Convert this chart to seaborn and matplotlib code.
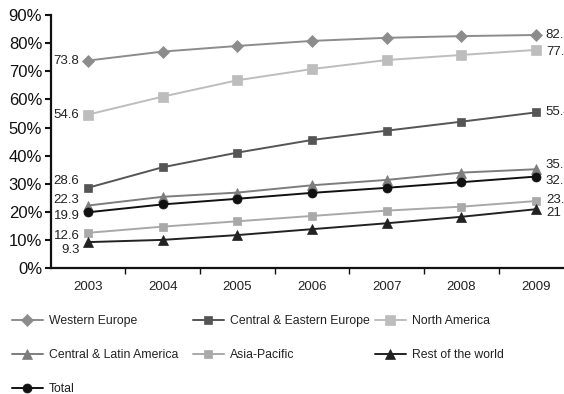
import matplotlib
matplotlib.use("Agg")
import matplotlib.pyplot as plt
import seaborn as sns
import pandas as pd
from matplotlib.ticker import FuncFormatter, FixedLocator

sns.set_style("ticks")
plt.rcParams["font.family"] = ["Liberation Sans", "DejaVu Sans"]

years = [2003, 2004, 2005, 2006, 2007, 2008, 2009]
western_europe = [73.8, 77.0, 79.0, 80.8, 81.9, 82.5, 82.9]
central_eastern_europe = [28.6, 35.9, 41.1, 45.6, 48.9, 52.1, 55.4]
north_america = [54.6, 61.0, 66.8, 70.8, 74.0, 75.8, 77.6]
central_latin_america = [22.3, 25.4, 26.9, 29.5, 31.4, 34.0, 35.2]
asia_pacific = [12.6, 14.8, 16.7, 18.6, 20.5, 21.9, 23.9]
rest_of_world = [9.3, 10.1, 11.8, 13.9, 16.0, 18.3, 21.0]
total = [19.9, 22.7, 24.7, 26.8, 28.6, 30.6, 32.6]

series = [
    ("Western Europe", western_europe, "#8c8c8c", "D", 6.0, 0, 0),
    ("Central & Eastern Europe", central_eastern_europe, "#555555", "s", 6.0, 5, 0),
    ("North America", north_america, "#bdbdbd", "s", 7.0, 0, -1.5),
    ("Central & Latin America", central_latin_america, "#7d7d7d", "^", 7.0, 4, 3),
    ("Asia-Pacific", asia_pacific, "#a9a9a9", "s", 6.0, -2, 1),
    ("Rest of the world", rest_of_world, "#222222", "^", 7.0, -6, -3),
    ("Total", total, "#111111", "o", 6.5, -3, -3),
]

fig = plt.figure(figsize=(5.64, 3.94), dpi=100)
ax = fig.add_axes([50.5 / 564, 1 - 268.3 / 394, 523 / 564, 253.3 / 394])

handles = {}
for name, vals, color, marker, ms, dy_left, dy_right in series:
    df = pd.DataFrame({"year": years, "value": vals})
    sns.lineplot(data=df, x="year", y="value", ax=ax, color=color, marker=marker,
                 markersize=ms, markeredgecolor=color, markeredgewidth=0.5,
                 linewidth=1.4, label=name, legend=False)
    handles[name] = ax.get_lines()[-1]
    ax.annotate(f"{vals[0]:g}", (years[0], vals[0]), xytext=(-6, dy_left),
                textcoords="offset points", ha="right", va="center",
                fontsize=9.5, color="#222222")
    ax.annotate(f"{vals[-1]:g}", (years[-1], vals[-1]), xytext=(7, dy_right),
                textcoords="offset points", ha="left", va="center",
                fontsize=9.5, color="#222222", annotation_clip=False)

ax.set_xlim(2002.5, 2009.5)
ax.set_ylim(0, 90)
ax.set_xlabel("")
ax.set_ylabel("")

ax.yaxis.set_major_locator(FixedLocator(range(0, 91, 10)))
ax.yaxis.set_major_formatter(FuncFormatter(lambda v, p: f"{v:.0f}%"))
ax.tick_params(axis="y", labelsize=12, length=4, width=1.5, pad=2, colors="#111111")

# category boundaries carry the tick marks, the years carry the labels
ax.xaxis.set_major_locator(FixedLocator([y + 0.5 for y in years[:-1]]))
ax.xaxis.set_major_formatter(FuncFormatter(lambda v, p: ""))
ax.xaxis.set_minor_locator(FixedLocator(years))
ax.xaxis.set_minor_formatter(FuncFormatter(lambda v, p: f"{v:.0f}"))
ax.tick_params(axis="x", which="major", length=4, width=1.0, colors="#111111")
ax.tick_params(axis="x", which="minor", length=0, labelsize=9.5, pad=9, colors="#222222")

sns.despine(ax=ax, top=True, right=True)
ax.spines["left"].set_linewidth(1.6)
ax.spines["bottom"].set_linewidth(1.6)
ax.spines["left"].set_color("#111111")
ax.spines["bottom"].set_color("#111111")

# legend laid out as three fixed-width columns
columns = [
    (["Western Europe", "Central & Latin America", "Total"], 12),
    (["Central & Eastern Europe", "Asia-Pacific"], 193),
    (["North America", "Rest of the world"], 375),
]
for names, x_px in columns:
    leg = fig.legend([handles[n] for n in names], names, ncol=1, frameon=False,
                     loc="upper left", bbox_to_anchor=(x_px / 564, 1 - 315 / 394),
                     fontsize=8.8, handlelength=2.5, handletextpad=0.5,
                     labelspacing=1.8, borderaxespad=0, borderpad=0,
                     labelcolor="#222222")

fig.savefig("out.png", dpi=100)
